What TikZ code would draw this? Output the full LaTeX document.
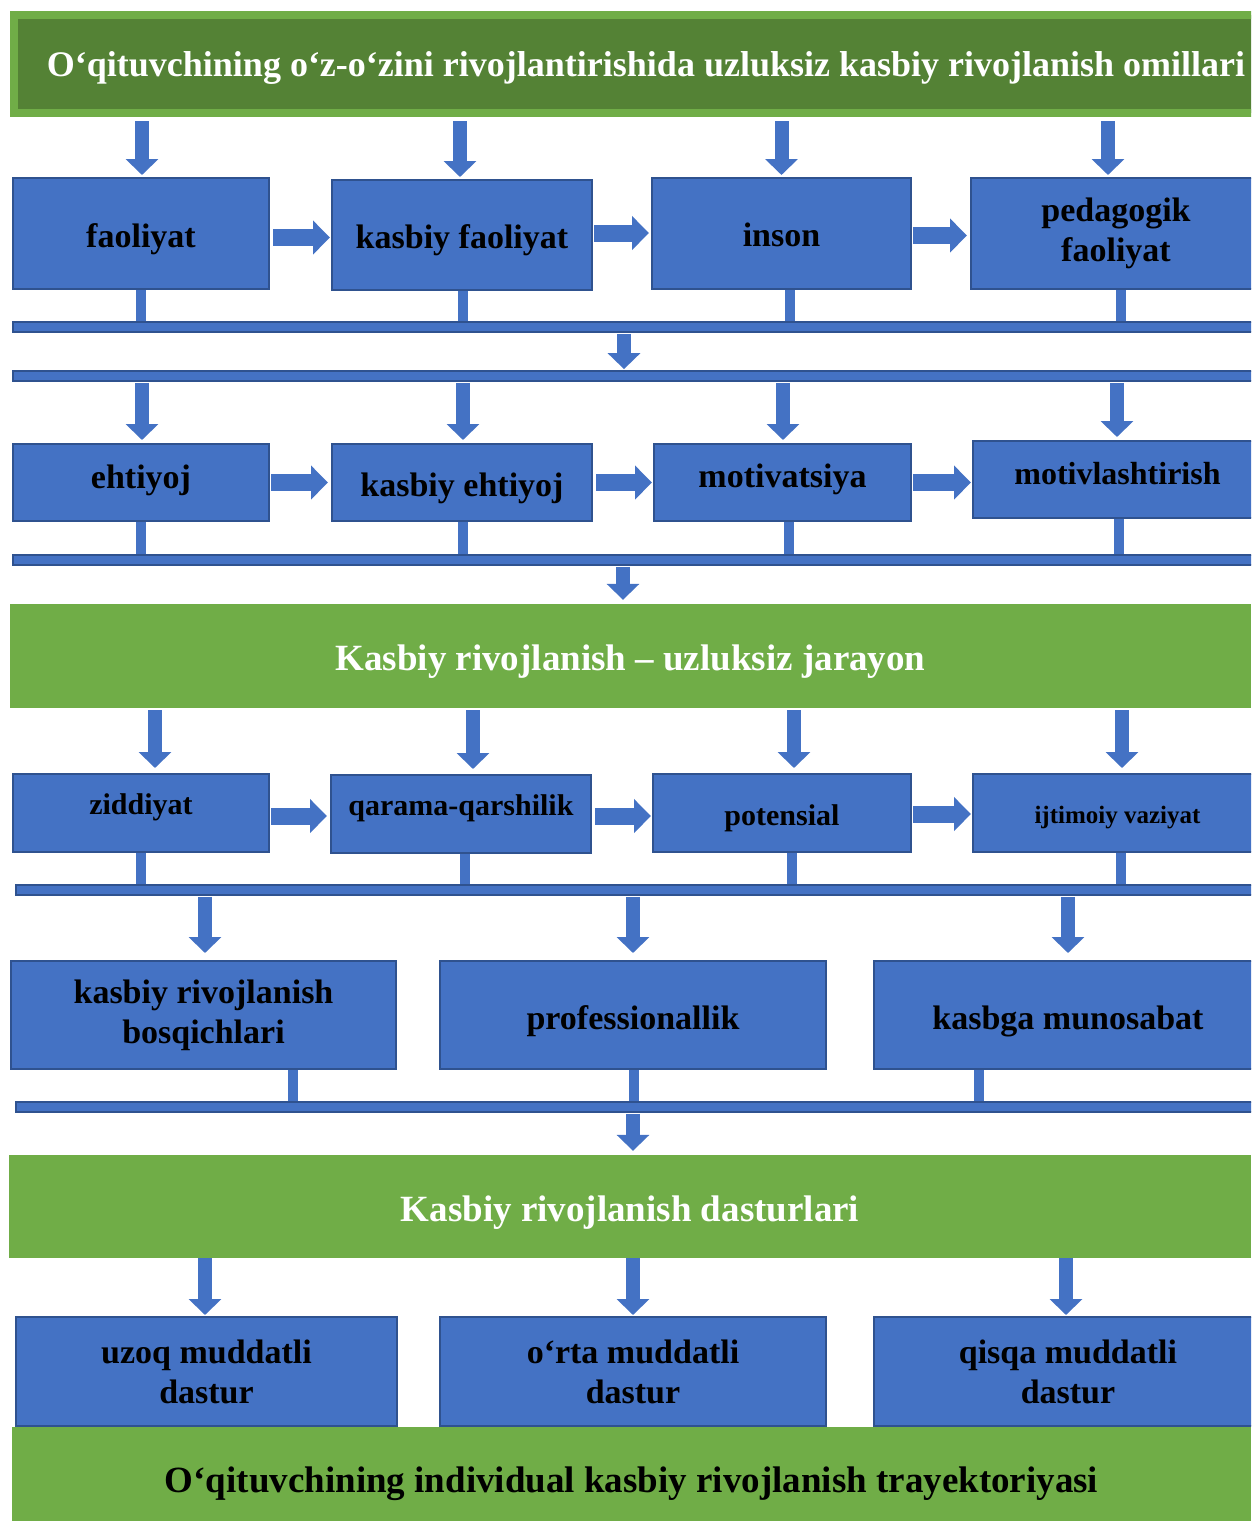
\documentclass[tikz,border=0pt]{standalone}
\usepackage{fontspec}
\setmainfont{Liberation Serif}
\usetikzlibrary{arrows.meta,calc}
\definecolor{bblue}{HTML}{4472C4}
\definecolor{bborder}{HTML}{2F528F}
\definecolor{lgreen}{HTML}{70AD47}
\definecolor{dgreen}{HTML}{548235}
\newcommand{\fs}[1]{\bfseries\fontsize{#1}{40}\selectfont}
\newcommand{\dn}[2]{\raisebox{-#1pt}[\height][\depth]{#2}}
\begin{document}
\begin{tikzpicture}[x=1pt,y=-1pt,
  box/.style={draw=bborder, fill=bblue, line width=2pt, inner sep=0pt, align=center, font=\fs{34}, text=black},
  bar/.style={draw=bborder, fill=bblue, line width=1.8pt, inner sep=0pt, minimum height=10pt},
  banner/.style={fill=lgreen, inner sep=0pt, font=\fs{37}},
  darr/.style={bblue, line width=14pt, -{Triangle[width=32pt,length=16pt]}},
  rarr/.style={bblue, line width=17pt, -{Triangle[width=33pt,length=17pt]}},
  stub/.style={bblue, line width=10pt},
]
\useasboundingbox (0,0) rectangle (1251,1521);
\clip (0,0) rectangle (1251,1521);

% banners
\node[fill=dgreen, draw=lgreen, line width=8pt, inner sep=0pt, minimum width=1264pt, minimum height=98pt,
      font=\fs{36}, text=white] (top) at (646,64) {\dn{4}{O‘qituvchining o‘z-o‘zini rivojlantirishida uzluksiz kasbiy rivojlanish omillari}};
\node[banner, minimum width=1241pt, minimum height=104pt, text=white] (g2) at (630.5,656) {\dn{6}{Kasbiy rivojlanish – uzluksiz jarayon}};
\node[banner, minimum width=1242pt, minimum height=103pt, text=white] (g3) at (630,1206.5) {\dn{6}{Kasbiy rivojlanish dasturlari}};
\node[banner, minimum width=1239pt, minimum height=106pt, text=black] (g4) at (631.5,1480) {\dn{4}{O‘qituvchining individual kasbiy rivojlanish trayektoriyasi}};

% row 1
\node[box, minimum width=256pt, minimum height=111pt] (f1) at (141,233.5) {\dn{6}{faoliyat}};
\node[box, minimum width=260pt, minimum height=110pt] (f2) at (462,235) {\dn{5}{kasbiy faoliyat}};
\node[box, minimum width=259pt, minimum height=111pt] (f3) at (781.5,233.5) {\dn{1}{inson}};
\node[box, minimum width=290pt, minimum height=111pt] (f4) at (1116,233.5) {pedagogik\\faoliyat};

% bars
\node[bar, minimum width=1249pt] (b1) at (637.5,327) {};
\node[bar, minimum width=1249pt] (b2) at (637.5,376) {};

% row 2
\node[box, minimum width=256pt, minimum height=77pt] (e1) at (141,482.5) {\dn{-2}{ehtiyoj}};
\node[box, minimum width=260pt, minimum height=77pt] (e2) at (462,482.5) {\dn{6}{kasbiy ehtiyoj}};
\node[box, minimum width=257pt, minimum height=77pt] (e3) at (782.5,482.5) {\dn{-3}{motivatsiya}};
\node[box, minimum width=289pt, minimum height=77pt, font=\fs{32}] (e4) at (1117.5,479.5) {\smash{\dn{5}{motivlashtirish}}};

\node[bar, minimum width=1249pt] (b3) at (637.5,560) {};

% row 3
\node[box, minimum width=256pt, minimum height=78pt, font=\fs{30}] (z1) at (141,813) {\smash{\dn{1}{ziddiyat}}};
\node[box, minimum width=260pt, minimum height=78pt, font=\fs{30}] (z2) at (461,814) {\smash{\dn{1}{qarama-qarshilik}}};
\node[box, minimum width=258pt, minimum height=78pt, font=\fs{30}] (z3) at (782,813) {\dn{5}{potensial}};
\node[box, minimum width=289pt, minimum height=78pt, font=\fs{25}] (z4) at (1117.5,813) {\dn{5}{ijtimoiy vaziyat}};

\node[bar, minimum width=1246pt] (b4) at (639,890) {};

% row 4
\node[box, minimum width=385pt, minimum height=108pt] (k1) at (203.5,1015) {kasbiy rivojlanish\\bosqichlari};
\node[box, minimum width=386pt, minimum height=108pt] (k2) at (633,1015) {\dn{6}{professionallik}};
\node[box, minimum width=388pt, minimum height=108pt] (k3) at (1068,1015) {\dn{6}{kasbga munosabat}};

\node[bar, minimum width=1246pt] (b5) at (639,1107) {};

% row 5
\node[box, minimum width=381pt, minimum height=109pt] (d1) at (206.5,1371.5) {uzoq muddatli\\dastur};
\node[box, minimum width=386pt, minimum height=109pt] (d2) at (633,1371.5) {o‘rta muddatli\\dastur};
\node[box, minimum width=388pt, minimum height=109pt] (d3) at (1068,1371.5) {qisqa muddatli\\dastur};

% arrows: top banner -> row 1
\foreach \n/\s in {f1/1,f2/-2,f3/0,f4/-8}{
  \draw[darr, shorten >=2pt] ([xshift=\s pt, yshift=-4pt]top.south -| \n.north) -- ([xshift=\s pt]\n.north);
}
% horizontal arrows row 1
\draw[rarr, shorten <=3pt, shorten >=1pt] ([yshift=-4pt]f1.east) -- ([yshift=-4pt]f1.east -| f2.west);
\draw[rarr, shorten <=1pt, shorten >=2pt] ([yshift=2pt]f2.east) -- ([yshift=2pt]f2.east -| f3.west);
\draw[rarr, shorten <=1pt, shorten >=3pt] ([yshift=-2pt]f3.east) -- ([yshift=-2pt]f3.east -| f4.west);
% stubs row 1 -> bar 1
\foreach \n/\s in {f1/0,f2/1,f3/8.5,f4/5}{
  \draw[stub] ([xshift=\s pt]\n.south) -- ([xshift=\s pt]\n.south |- b1.north);
}
% bar 1 -> bar 2
\draw[darr, shorten <=1pt, shorten >=1pt] ([xshift=-13.5pt]b1.south) -- ([xshift=-13.5pt]b1.south |- b2.north);
% bar 2 -> row 2
\foreach \n/\s in {e1/1,e2/1,e3/0.5,e4/-0.5}{
  \draw[darr, shorten <=1pt, shorten >=3pt] ([xshift=\s pt]b2.south -| \n.north) -- ([xshift=\s pt]\n.north);
}
% horizontal arrows row 2
\draw[rarr, shorten <=1pt, shorten >=3pt] (e1.east) -- (e1.east -| e2.west);
\draw[rarr, shorten <=3pt, shorten >=1pt] (e2.east) -- (e2.east -| e3.west);
\draw[rarr, shorten <=1pt, shorten >=1pt] (e3.east) -- (e3.east -| e4.west);
% stubs row 2 -> bar 3
\foreach \n/\s in {e1/0,e2/1,e3/6.5,e4/1.5}{
  \draw[stub] ([xshift=\s pt]\n.south) -- ([xshift=\s pt]\n.south |- b3.north);
}
% bar 3 -> banner 2
\draw[darr, shorten <=1pt, shorten >=4pt] ([xshift=-14.5pt]b3.south) -- ([xshift=-14.5pt]b3.south |- g2.north);
% banner 2 -> row 3
\foreach \n/\s in {z1/14,z2/12,z3/12,z4/4.5}{
  \draw[darr, shorten <=2pt, shorten >=5pt] ([xshift=\s pt]g2.south -| \n.north) -- ([xshift=\s pt]\n.north);
}
% horizontal arrows row 3
\draw[rarr, shorten <=1pt, shorten >=3pt] ([yshift=-3pt]z1.east) -- ([yshift=-3pt]z1.east -| z2.west);
\draw[rarr, shorten <=3pt, shorten >=1pt] ([yshift=-2pt]z2.east) -- ([yshift=-2pt]z2.east -| z3.west);
\draw[rarr, shorten <=1pt, shorten >=1pt] ([yshift=-1pt]z3.east) -- ([yshift=-1pt]z3.east -| z4.west);
% stubs row 3 -> bar 4
\foreach \n/\s in {z1/0,z2/4,z3/10,z4/3.5}{
  \draw[stub] ([xshift=\s pt]\n.south) -- ([xshift=\s pt]\n.south |- b4.north);
}
% bar 4 -> row 4
\foreach \n/\s in {k1/1.5,k2/0,k3/0}{
  \draw[darr, shorten <=1pt, shorten >=7pt] ([xshift=\s pt]b4.south -| \n.north) -- ([xshift=\s pt]\n.north);
}
% stubs row 4 -> bar 5
\foreach \n/\s in {k1/89.5,k2/1,k3/-89}{
  \draw[stub] ([xshift=\s pt]\n.south) -- ([xshift=\s pt]\n.south |- b5.north);
}
% bar 5 -> banner 3
\draw[darr, shorten <=1pt, shorten >=4pt] ([xshift=-6pt]b5.south) -- ([xshift=-6pt]b5.south |- g3.north);
% banner 3 -> row 5
\foreach \n/\s in {d1/-1.5,d2/0,d3/-2}{
  \draw[darr, shorten >=1pt] ([xshift=\s pt]g3.south -| \n.north) -- ([xshift=\s pt]\n.north);
}
\end{tikzpicture}
\end{document}
